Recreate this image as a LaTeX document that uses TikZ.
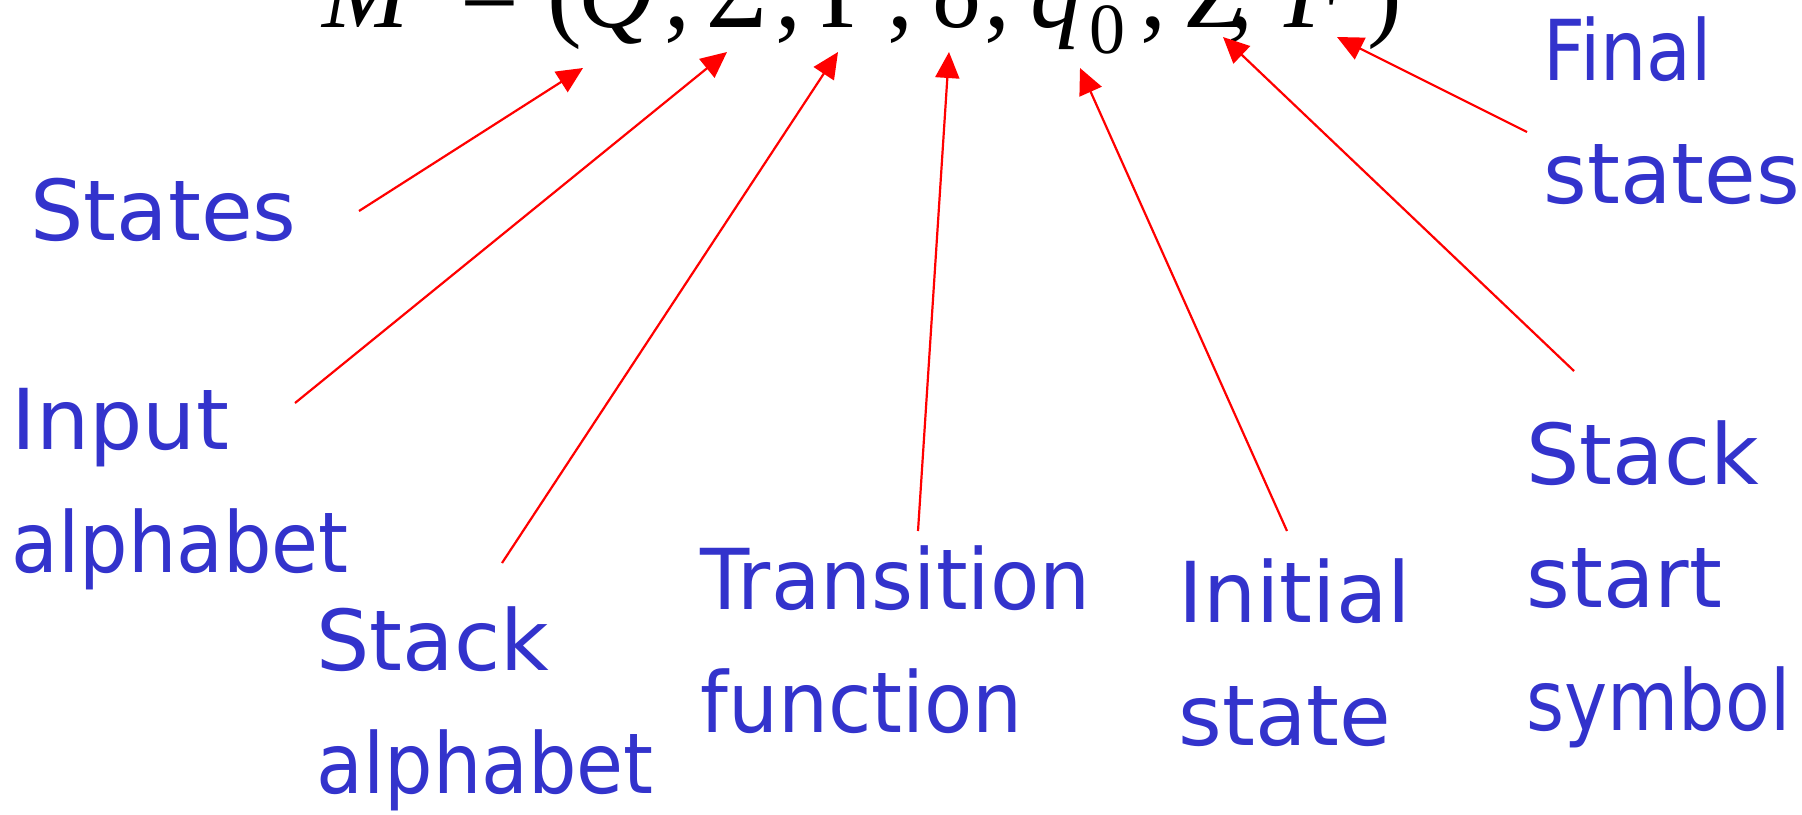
\documentclass[tikz,border=0pt]{standalone}
\usepackage{fontspec}
\setmainfont{Liberation Serif}
\newfontfamily\lblfont{DejaVu Sans}
\usetikzlibrary{arrows.meta}
\definecolor{lblblue}{RGB}{51,51,204}
\newcommand{\sqz}[2]{\scalebox{#1}[1]{#2}}
\tikzset{
  sym/.style={anchor=base west, inner sep=0pt, font=\fontsize{52}{60}\selectfont},
  subsym/.style={anchor=base west, inner sep=0pt, font=\fontsize{36}{40}\selectfont},
  lbl/.style={anchor=base west, inner sep=0pt, align=left, text=lblblue, font=\lblfont\fontsize{42}{61.3}\selectfont},
  pointer/.style={draw=red, line width=1.1pt, -{Triangle[length=13pt,width=12pt]}}
}
\begin{document}
\begin{tikzpicture}[x=0.5pt,y=-0.5pt]
\useasboundingbox (0,0) rectangle (1802,814);
\clip (0,0) rectangle (1802,814);
% formula
\node[sym] (M) at (322,27) {\textit{M}};
\node[sym] (eq) at (460,27) {=};
\node[sym] (lp) at (547,27) {(};
\node[sym] (Q) at (578,27) {\textit{Q}};
\node[sym] (c1) at (664,27) {,};
\node[sym] (Sig) at (706,27) {Σ};
\node[sym] (c2) at (775,27) {,};
\node[sym] (Gam) at (820,27) {Γ};
\node[sym] (c3) at (887,27) {,};
\node[sym] (del) at (932,27) {δ};
\node[sym] (c4) at (984,27) {,};
\node[sym] (q) at (1030,27) {\textit{q}};
\node[subsym] (zero) at (1089,53) {0};
\node[sym] (c5) at (1140,27) {,};
\node[sym] (Z) at (1186,27) {\textit{Z}};
\node[sym] (c6) at (1227,27) {,};
\node[sym] (F) at (1284,27) {\textit{F}};
\node[sym] (rp) at (1367,27) {)};
% labels (anchor: baseline of the last line)
\node[lbl] (states) at (30,240) {States};
\node[lbl] (input) at (11,572) {Input\\\sqz{0.91}{alphabet}};
\node[lbl] (stackalpha) at (316,793) {Stack\\\sqz{0.91}{alphabet}};
\node[lbl] (trans) at (700,732) {\sqz{0.96}{Transition}\\\sqz{0.94}{function}};
\node[lbl] (init) at (1178,745) {Initial\\state};
\node[lbl] (stackstart) at (1526,730) {Stack\\start\\\sqz{0.87}{symbol}};
\node[lbl] (final) at (1543,203) {\sqz{0.87}{Final}\\states};
% arrow ends
\coordinate (tStates) at (359,211);   \coordinate (hStates) at (583,68);
\coordinate (tInput) at (295,403);    \coordinate (hInput) at (727,52);
\coordinate (tStackA) at (502,563);   \coordinate (hStackA) at (838,52);
\coordinate (tTrans) at (918,531);    \coordinate (hTrans) at (949,52);
\coordinate (tInit) at (1287,531);    \coordinate (hInit) at (1080,68);
\coordinate (tStart) at (1574,371);   \coordinate (hStart) at (1223,37);
\coordinate (tFinal) at (1527,132);   \coordinate (hFinal) at (1337,37);
\draw[pointer] (tStates) -- (hStates);
\draw[pointer] (tInput) -- (hInput);
\draw[pointer] (tStackA) -- (hStackA);
\draw[pointer] (tTrans) -- (hTrans);
\draw[pointer] (tInit) -- (hInit);
\draw[pointer] (tStart) -- (hStart);
\draw[pointer] (tFinal) -- (hFinal);
\end{tikzpicture}
\end{document}
